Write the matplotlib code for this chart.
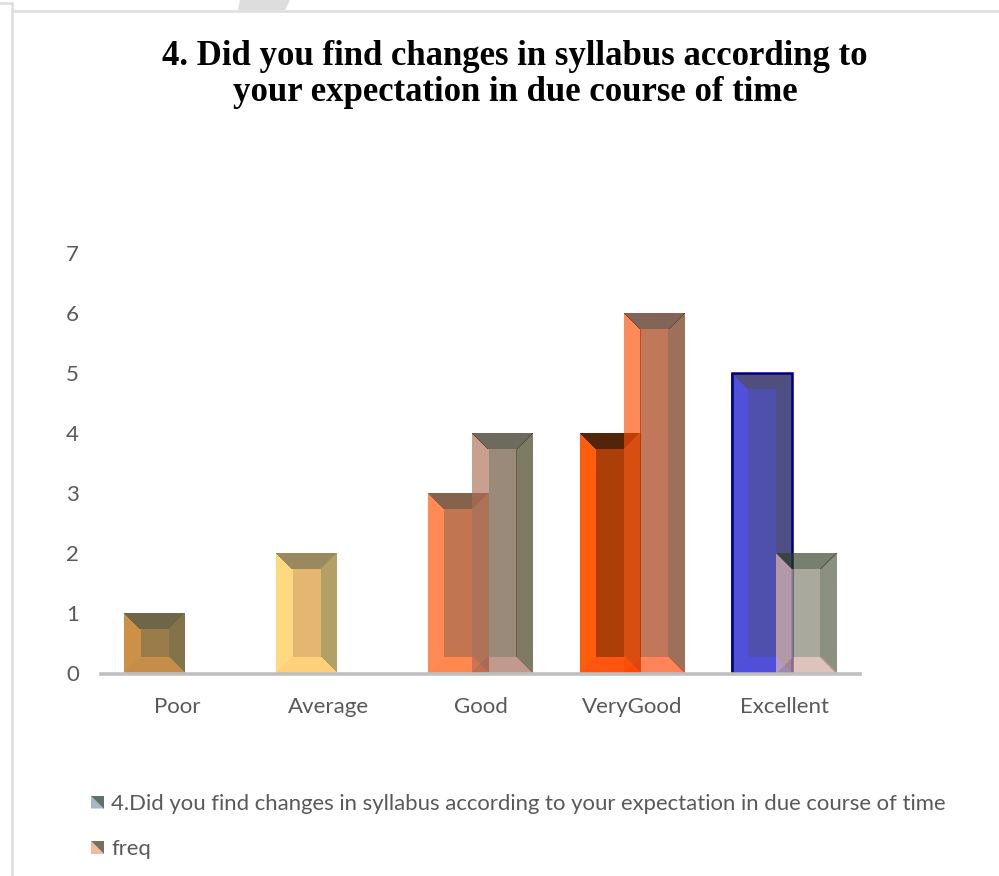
"""Clustered bar chart with bevelled bars, survey question 4 (syllabus changes)."""
import matplotlib
matplotlib.use("Agg")
import matplotlib.pyplot as plt
from matplotlib.colors import to_rgb
from matplotlib.legend_handler import HandlerBase
from matplotlib.patches import Polygon

# ---------------------------------------------------------------------------
# Data
# ---------------------------------------------------------------------------
categories = ["Poor", "Average", "Good", "VeryGood", "Excellent"]
question_vals = [1, 2, 3, 4, 5]
freq_vals = [0, 0, 4, 6, 2]

title = ("4. Did you find changes in syllabus according to\n"
         "your expectation in due course of time")
question_label = ("4.Did you find changes in syllabus according to your "
                  "expectation in due course of time")
freq_label = "freq"

# Face colours per bar: left, top, right, bottom, centre
question_faces = [
    ("#CC9147", "#6F6648", "#82734B", "#C68C4A", "#9A7C4A"),
    ("#FFD97F", "#99895E", "#B3A065", "#FFD07C", "#E4B672"),
    ("#FF8A55", "#85624C", "#B27C5F", "#FF8750", "#C1764F"),
    ("#FF5C0C", "#52240A", "#90542F", "#FF5510", "#AB3F07"),
    ("#5050DC", "#4F4F7E", "#4F4F85", "#4F4FDC", "#4F4FAE"),
]
# Colours as they look over white, un-blended below
freq_faces = [
    None,
    None,
    ("#C9A090", "#6F6B5E", "#7E7B65", "#C09A8C", "#998A7A"),
    ("#FF8A55", "#83654F", "#9C7050", "#FF8455", "#C1774F"),
    ("#F1D7D2", "#78806F", "#8B9280", "#DEC4BD", "#A9A99F"),
]

C_TEXT = "#595959"
C_AXIS = "#BFBFBF"
C_FRAME = "#DDDDDD"
BAR_ALPHA = 0.65

# ---------------------------------------------------------------------------
# Layout, pixel based
# ---------------------------------------------------------------------------
W, H = 999, 876
AX_L, AX_R, AX_TOP, AX_BOT = 101, 860, 253, 673
BAR_W = 0.395
OFFSET = 0.146
BEVEL_X = 16 / ((AX_R - AX_L) / 5)
BEVEL_Y = 16 / ((AX_BOT - AX_TOP) / 7)
NUDGE = 0.6 / ((AX_BOT - AX_TOP) / 7)   # keeps faces from sharing diagonal pixels

plt.rcParams["font.family"] = ["Lato", "DejaVu Sans"]

fig = plt.figure(figsize=(W / 100, H / 100), dpi=100)
ax = fig.add_axes([AX_L / W, 1 - AX_BOT / H, (AX_R - AX_L) / W, (AX_BOT - AX_TOP) / H])
ax.patch.set_alpha(0)


def px(x, y):
    return x / W, 1 - y / H


def unblend(colour, alpha):
    """Source colour that shows as `colour` over white at this alpha."""
    rgb = to_rgb(colour)
    return tuple(min(1, max(0, (c - (1 - alpha)) / alpha)) for c in rgb)


def bevel_bar(ax, xc, val, faces, alpha=1.0):
    x0, x1 = xc - BAR_W / 2, xc + BAR_W / 2
    ix0, ix1 = x0 + BEVEL_X, x1 - BEVEL_X
    iy0, iy1 = BEVEL_Y, val - BEVEL_Y
    n = NUDGE
    shapes = [
        [(x0, n), (ix0, iy0 + n), (ix0, iy1 - n), (x0, val - n)],      # left
        [(x0, val), (ix0, iy1), (ix1, iy1), (x1, val)],                # top
        [(x1, val - n), (ix1, iy1 - n), (ix1, iy0 + n), (x1, n)],      # right
        [(x1, 0), (ix1, iy0), (ix0, iy0), (x0, 0)],                    # bottom
        [(ix0, iy0), (ix0, iy1), (ix1, iy1), (ix1, iy0)],              # centre
    ]
    for pts, col in zip(shapes, faces):
        if alpha < 1:
            col = unblend(col, alpha)
        # no antialiasing, otherwise the faces show light seams
        ax.add_patch(Polygon(pts, closed=True, facecolor=col, edgecolor="none",
                             linewidth=0, alpha=alpha, antialiased=False, zorder=3))


class HandlerSplitSquare(HandlerBase):
    """Small square split along its diagonal, like the bevelled legend key."""

    def __init__(self, lower, upper):
        super().__init__()
        self.lower = lower
        self.upper = upper

    def create_artists(self, legend, orig_handle, xdescent, ydescent, width, height,
                       fontsize, trans):
        s = 9.0
        x0, y0 = -xdescent, -ydescent + 0.5 * (height - s)
        low = Polygon([(x0, y0), (x0, y0 + s), (x0 + s, y0)], facecolor=self.lower,
                      edgecolor="none", transform=trans)
        up = Polygon([(x0, y0 + s), (x0 + s, y0 + s), (x0 + s, y0)], facecolor=self.upper,
                     edgecolor="none", transform=trans)
        return [low, up]


# ---------------------------------------------------------------------------
# Bars
# ---------------------------------------------------------------------------
for i, (val, faces) in enumerate(zip(question_vals, question_faces)):
    bevel_bar(ax, i - OFFSET, val, faces)
    if categories[i] == "Excellent":
        ax.bar(i - OFFSET, val, BAR_W, fill=False, edgecolor="#00007A", linewidth=1.8, zorder=3)

for i, (val, faces) in enumerate(zip(freq_vals, freq_faces)):
    if val > 0:
        bevel_bar(ax, i + OFFSET, val, faces, alpha=BAR_ALPHA)

# ---------------------------------------------------------------------------
# Axes
# ---------------------------------------------------------------------------
ax.set_xlim(-0.5, 4.5)
ax.set_ylim(0, 7)
ax.set_xticks(range(len(categories)), categories)
ax.set_yticks(range(8))
ax.tick_params(axis="both", length=0, labelsize=16, labelcolor=C_TEXT)
ax.tick_params(axis="x", pad=16)
ax.tick_params(axis="y", pad=16)
for name in ["top", "left", "right"]:
    ax.spines[name].set_visible(False)
ax.spines["bottom"].set_color(C_AXIS)
ax.spines["bottom"].set_linewidth(2.6)
ax.spines["bottom"].set_position(("outward", 1))
ax.spines["bottom"].set_zorder(4)

fig.text(*px(515, 74.5), title, ha="center", va="center", fontsize=25, fontweight="bold",
         family="Liberation Serif", color="#000000", linespacing=1.13)

h_q, = ax.plot([], [])
h_f, = ax.plot([], [])
fig.legend([h_q, h_f], [question_label, freq_label],
           handler_map={h_q: HandlerSplitSquare("#A9B6C4", "#5E7367"),
                        h_f: HandlerSplitSquare("#F0B9A0", "#77705A")},
           loc="upper left", bbox_to_anchor=px(91, 794), frameon=False, fontsize=15.9,
           labelcolor=C_TEXT, borderpad=0, borderaxespad=0, handlelength=0.55,
           handletextpad=0.36, labelspacing=1.15)

# ---------------------------------------------------------------------------
# Page frame and stray shape from the screenshot
# ---------------------------------------------------------------------------
for xs, ys in [((0, 12), (3, 3)), ((12, 12), (3, 876)), ((13, 999), (11, 11))]:
    fig.add_artist(plt.Line2D([x / W for x in xs], [1 - y / H for y in ys], color=C_FRAME,
                              lw=1.8, transform=fig.transFigure))
wedge = [px(240, 0), px(290, 0), px(285, 10), px(238, 10)]
fig.add_artist(Polygon(wedge, closed=True, facecolor=C_FRAME, edgecolor="none",
                       transform=fig.transFigure))

fig.savefig("out.png", dpi=100, facecolor="white")
plt.close(fig)
